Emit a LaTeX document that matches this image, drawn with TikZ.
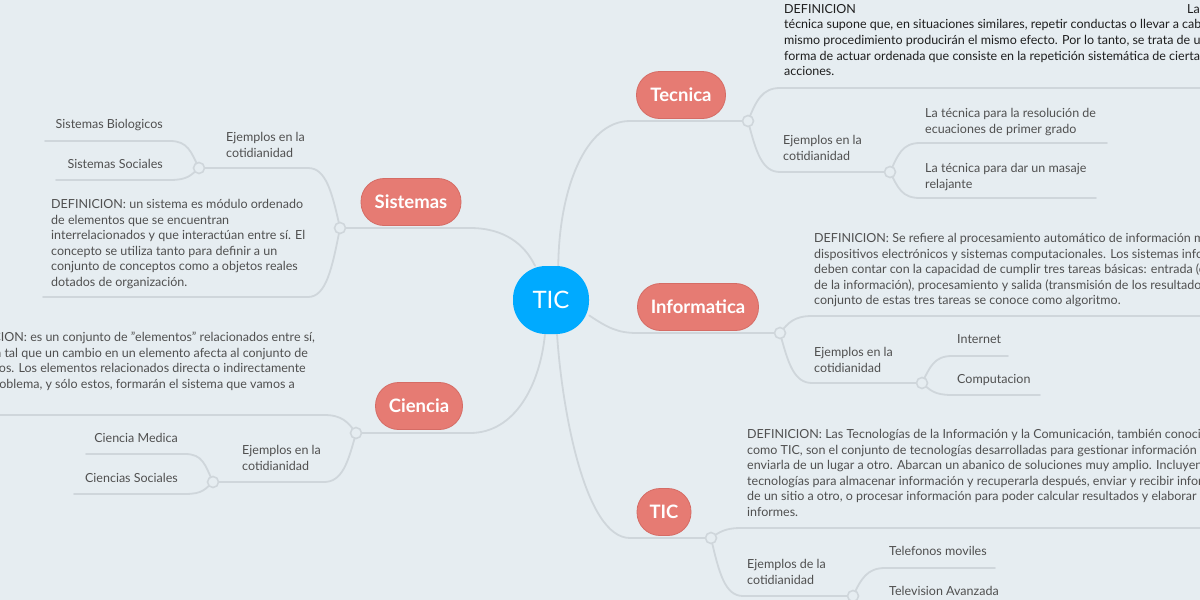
\documentclass[tikz,border=0pt]{standalone}
\usepackage{fontspec}
\setmainfont{Lato}
\usetikzlibrary{calc}
\pgfdeclarelayer{back}
\pgfsetlayers{back,main}
\definecolor{bgc}{HTML}{E6EDF1}
\definecolor{linec}{HTML}{CFD6DB}
\definecolor{topicc}{HTML}{E67B73}
\definecolor{topicb}{HTML}{D56C65}
\definecolor{centerc}{HTML}{00AAFF}
\definecolor{txtc}{HTML}{505050}
\definecolor{txtd}{HTML}{1E1E1E}
\begin{document}
\begin{tikzpicture}[x=1pt,y=-1pt,
  branch/.style={draw=linec,line width=1.8pt,line cap=round},
  dot/.style={circle,draw=linec,line width=1.6pt,fill=bgc,minimum size=11pt,inner sep=0pt},
  topic/.style={rectangle,rounded corners=23pt,fill=topicc,draw=topicb,line width=0.8pt,minimum height=47pt,text=white,font=\fontsize{18.5}{22}\selectfont\bfseries,inner sep=0pt},
  txt/.style={text=txtc,font=\fontsize{12.5}{15.6}\selectfont,inner sep=0pt,align=left,anchor=north west,execute at begin node=\strut},
  lbl/.style={text=txtc,font=\fontsize{12.5}{15.6}\selectfont,inner sep=0pt}
]
\useasboundingbox (0,0) rectangle (1200,600);
\clip (0,0) rectangle (1200,600);

% central and main topics
\node[fill=centerc,rounded corners=33pt,minimum width=76pt,minimum height=68pt,inner sep=0pt,text=white,font=\fontsize{24}{28}\selectfont] (tic) at (551,300) {TIC};
\node[topic,minimum width=89pt] (tec) at (681,95) {Tecnica};
\node[topic,minimum width=100pt] (sis) at (411,202) {Sistemas};
\node[topic,minimum width=121pt] (inf) at (698,307) {Informatica};
\node[topic,minimum width=87pt] (cie) at (419,406) {Ciencia};
\node[topic,minimum width=54pt] (tic2) at (664,512) {TIC};

% junction dots
\node[dot] (dTec) at (748,121) {};
\node[dot] (dTecE) at (890,172) {};
\node[dot] (dInf) at (780,333) {};
\node[dot] (dInfE) at (922,383) {};
\node[dot] (dTic) at (711,538) {};
\node[dot] (dTicE) at (853,596) {};
\node[dot] (dSis) at (340,228) {};
\node[dot] (dSisE) at (199,168) {};
\node[dot] (dCie) at (356,433) {};
\node[dot] (dCieE) at (213,482) {};

% free ends of underlines
\coordinate (eTecDef) at (1210,88);
\coordinate (eTecA) at (1107,143);
\coordinate (eTecB) at (1096,198);
\coordinate (eInfDef) at (1210,316);
\coordinate (eInfA) at (1008,356);
\coordinate (eInfB) at (1040,395);
\coordinate (eTicDef) at (1210,528);
\coordinate (eTicA) at (995,568);
\coordinate (eTicB) at (1060,624);
\coordinate (eSisDef) at (43,297);
\coordinate (eSisA) at (45,141);
\coordinate (eSisB) at (56,180);
\coordinate (eCieDef) at (-10,415);
\coordinate (eCieA) at (86,454);
\coordinate (eCieB) at (74,494);

% texts: Tecnica
\node[txt,text=txtd] (tTecDef) at (784,4) {\makebox[403pt][l]{DEFINICION}La\\
técnica supone que, en situaciones similares, repetir conductas o llevar a cabo un\\
mismo procedimiento producirán el mismo efecto. Por lo tanto, se trata de una\\
forma de actuar ordenada que consiste en la repetición sistemática de ciertas\\
acciones.};
\node[txt] (tTecE) at (783,135) {Ejemplos en la\\cotidianidad};
\node[txt] (tTecA) at (925,108) {La técnica para la resolución de\\ecuaciones de primer grado};
\node[txt] (tTecB) at (925,163) {La técnica para dar un masaje\\relajante};

% texts: Informatica
\node[txt] (tInfDef) at (814,233) {DEFINICION: Se refiere al procesamiento automático de información mediante\\
dispositivos electrónicos y sistemas computacionales. Los sistemas informáticos\\
deben contar con la capacidad de cumplir tres tareas básicas: entrada (captación\\
de la información), procesamiento y salida (transmisión de los resultados). El\\
conjunto de estas tres tareas se conoce como algoritmo.};
\node[txt] (tInfE) at (814,347) {Ejemplos en la\\cotidianidad};
\node[lbl,anchor=mid west] (tInfA) at (957,341) {Internet};
\node[lbl,anchor=mid west] (tInfB) at (957,381) {Computacion};

% texts: TIC
\node[txt] (tTicDef) at (747,429) {DEFINICION: Las Tecnologías de la Información y la Comunicación, también conocidas\\
como TIC, son el conjunto de tecnologías desarrolladas para gestionar información y\\
enviarla de un lugar a otro. Abarcan un abanico de soluciones muy amplio. Incluyen las\\
tecnologías para almacenar información y recuperarla después, enviar y recibir información\\
de un sitio a otro, o procesar información para poder calcular resultados y elaborar\\
informes.};
\node[txt] (tTicE) at (747,559) {Ejemplos de la\\cotidianidad};
\node[lbl,anchor=mid west] (tTicA) at (889,553) {Telefonos moviles};
\node[lbl,anchor=mid west] (tTicB) at (889,593) {Television Avanzada};

% texts: Sistemas
\node[lbl,anchor=mid east] (tSisA) at (163,126) {Sistemas Biologicos};
\node[lbl,anchor=mid east] (tSisB) at (163,166) {Sistemas Sociales};
\node[txt] (tSisE) at (226,132) {Ejemplos en la\\cotidianidad};
\node[txt] (tSisDef) at (51,199) {DEFINICION: un sistema es módulo ordenado\\
de elementos que se encuentran\\
interrelacionados y que interactúan entre sí. El\\
concepto se utiliza tanto para definir a un\\
conjunto de conceptos como a objetos reales\\
dotados de organización.};

% texts: Ciencia
\node[txt] (tCieDef) at (-48,332) {DEFINICION: es un conjunto de "elementos" relacionados entre sí,\\
de forma tal que un cambio en un elemento afecta al conjunto de\\
todos ellos. Los elementos relacionados directa o indirectamente\\
con el problema, y sólo estos, formarán el sistema que vamos a\\
estudiar.};
\node[txt] (tCieE) at (242,445) {Ejemplos en la\\cotidianidad};
\node[lbl,anchor=mid east] (tCieA) at (178,440) {Ciencia Medica};
\node[lbl,anchor=mid east] (tCieB) at (178,480) {Ciencias Sociales};

\begin{pgfonlayer}{back}
\fill[bgc] (0,0) rectangle (1200,600);
% Tecnica
\draw[branch] (tic.78) .. controls (559,190) and (585,121) .. (630,121) -- (dTec.center);
\draw[branch] (dTec.center) .. controls +(8,-20) and +(-18,0) .. (780,88) -- (eTecDef);
\draw[branch] (dTec.center) .. controls +(8,31) and +(-18,0) .. (780,172) -- (dTecE.center);
\draw[branch] (dTecE.center) .. controls +(8,-17) and +(-18,0) .. (920,143) -- (eTecA);
\draw[branch] (dTecE.center) .. controls +(8,16) and +(-18,0) .. (920,198) -- (eTecB);
% Informatica
\draw[branch] (tic.-22) .. controls (608,328) and (618,333) .. (637,333) -- (dInf.center);
\draw[branch] (dInf.center) .. controls +(8,-10) and +(-18,0) .. (812,316) -- (eInfDef);
\draw[branch] (dInf.center) .. controls +(8,30) and +(-18,0) .. (812,383) -- (dInfE.center);
\draw[branch] (dInfE.center) .. controls +(8,-16) and +(-18,0) .. (952,356) -- (eInfA);
\draw[branch] (dInfE.center) .. controls +(8,7) and +(-18,0) .. (952,395) -- (eInfB);
% TIC
\draw[branch] (tic.-80) .. controls (562,410) and (585,538) .. (630,538) -- (dTic.center);
\draw[branch] (dTic.center) .. controls +(8,-6) and +(-14,0) .. (740,528) -- (eTicDef);
\draw[branch] (dTic.center) .. controls +(8,35) and +(-18,0) .. (743,596) -- (dTicE.center);
\draw[branch] (dTicE.center) .. controls +(8,-17) and +(-18,0) .. (885,568) -- (eTicA);
\draw[branch] (dTicE.center) .. controls +(8,17) and +(-18,0) .. (885,624) -- (eTicB);
% Sistemas
\draw[branch] (tic.115) .. controls (525,245) and (505,228) .. (470,228) -- (dSis.center);
\draw[branch] (dSis.center) .. controls +(-8,-36) and +(18,0) .. (308,168) -- (dSisE.center);
\draw[branch] (dSis.center) .. controls +(-8,41) and +(18,0) .. (308,297) -- (eSisDef);
\draw[branch] (dSisE.center) .. controls +(-8,-16) and +(18,0) .. (170,141) -- (eSisA);
\draw[branch] (dSisE.center) .. controls +(-8,7) and +(18,0) .. (170,180) -- (eSisB);
% Ciencia
\draw[branch] (tic.-100) .. controls (540,385) and (515,433) .. (470,433) -- (dCie.center);
\draw[branch] (dCie.center) .. controls +(-8,-11) and +(18,0) .. (324,415) -- (eCieDef);
\draw[branch] (dCie.center) .. controls +(-8,30) and +(18,0) .. (324,482) -- (dCieE.center);
\draw[branch] (dCieE.center) .. controls +(-8,-17) and +(18,0) .. (185,454) -- (eCieA);
\draw[branch] (dCieE.center) .. controls +(-8,7) and +(18,0) .. (185,494) -- (eCieB);
\end{pgfonlayer}
\end{tikzpicture}
\end{document}
